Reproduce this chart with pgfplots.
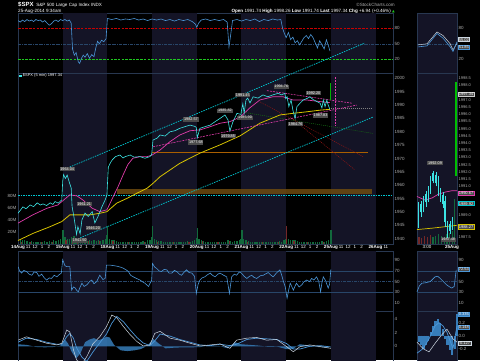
\documentclass[border=0pt]{standalone}
\usepackage{fontspec}
\setmainfont{Liberation Sans}
\newfontfamily\dejavu{DejaVu Sans}
\usepackage{pgfplots}
\pgfplotsset{compat=1.18}

\definecolor{dayband}{RGB}{20,20,38}
\definecolor{bordercol}{RGB}{40,55,80}
\definecolor{labcol}{RGB}{175,175,175}
\definecolor{pcyan}{RGB}{60,228,228}
\definecolor{chcyan}{RGB}{0,200,210}
\definecolor{mag}{RGB}{225,60,170}
\definecolor{yel}{RGB}{215,195,0}
\definecolor{rsiblue}{RGB}{75,150,215}
\definecolor{redl}{RGB}{200,0,0}
\definecolor{greenl}{RGB}{30,200,30}
\definecolor{volg}{RGB}{18,105,60}
\definecolor{volr}{RGB}{115,40,40}
\definecolor{brownl}{RGB}{170,95,0}
\definecolor{bandc}{RGB}{110,75,15}
\definecolor{dkred}{RGB}{150,20,20}
\definecolor{dkgreen}{RGB}{20,110,20}
\definecolor{lvlline}{RGB}{40,70,105}
\definecolor{boxgray}{RGB}{75,75,75}
\definecolor{histblue}{RGB}{55,125,185}
\definecolor{macdw}{RGB}{205,215,225}

\tikzset{
  lbl/.style={fill=boxgray, text=white, font=\fontsize{3.8}{4}\selectfont, inner sep=0.7pt},
  vbox/.style={fill=boxgray, text=white, font=\fontsize{4}{4.5}\selectfont, inner sep=0.6pt, anchor=west, xshift=1pt, line width=0.4pt},
}

\pgfplotsset{
  panel/.style={
    scale only axis, anchor=south west,
    axis line style={draw=bordercol, line width=0.5pt},
    xtick=\empty, ytick pos=right, yticklabel pos=right,
    major tick length=0pt,
    tick style={draw=none},
    yticklabel style={font=\fontsize{4.5}{5}\selectfont, text=labcol, inner sep=1.5pt},
    xticklabel style={font=\fontsize{4.5}{5}\selectfont, text=white, inner sep=1pt},
    /pgf/number format/assume math mode=true,
    /pgf/number format/1000 sep={},
    scaled y ticks=false,
  },
}

\newcommand\daybands[2]{%
  \addplot[fill=dayband,draw=none] coordinates {(1,#1)(2,#1)(2,#2)(1,#2)} -- cycle;
  \addplot[fill=dayband,draw=none] coordinates {(3,#1)(4,#1)(4,#2)(3,#2)} -- cycle;
  \addplot[fill=dayband,draw=none] coordinates {(5,#1)(6,#1)(6,#2)(5,#2)} -- cycle;
  \addplot[fill=dayband,draw=none] coordinates {(7,#1)(8,#1)(8,#2)(7,#2)} -- cycle;
}

\begin{document}
\begin{tikzpicture}
\fill[black] (0,0) rectangle (480pt,360pt);

% ---------------- top indicator panel ----------------
\begin{axis}[panel, at={(18pt,287pt)}, width=375pt, height=60pt,
  xmin=0, xmax=8.39, ymin=-6.5, ymax=109.6, ytick={20,50,80}]
\daybands{-6.5}{109.6}
\addplot[redl, line width=0.8pt, dash pattern=on 2.5pt off 1.2pt] coordinates {(0,80)(8.39,80)};
\addplot[lvlline, line width=0.5pt, dash pattern=on 3pt off 1pt on 0.6pt off 1pt] coordinates {(0,50)(8.39,50)};
\addplot[greenl, line width=0.8pt, dash pattern=on 2.5pt off 1.2pt] coordinates {(0,20)(8.39,20)};
\addplot[rsiblue, line width=0.6pt] coordinates {
(0,95)(0.05,92)(0.1,96)(0.15,93)(0.2,97)(0.25,94)(0.3,96)(0.35,93)(0.4,97)(0.45,95)(0.5,96)(0.55,92)(0.6,95)(0.65,90)(0.7,86)(0.75,89)(0.8,94)(0.85,96)(0.9,93)(0.95,97)
(1.0,95)(1.05,97)(1.1,94)(1.15,96)(1.19,90)(1.22,40)(1.26,28)(1.3,33)(1.35,15)(1.38,12)(1.42,22)(1.46,28)(1.5,24)(1.55,31)(1.6,22)(1.65,29)(1.7,25)(1.74,42)(1.78,55)(1.82,50)(1.87,57)(1.92,54)(1.97,60)
(2.0,99)(2.1,97)(2.2,99)(2.3,96)(2.4,98)(2.5,97)(2.6,99)(2.7,96)(2.8,98)(2.9,95)(3.0,98)(3.1,96)(3.2,98)(3.3,95)(3.4,97)(3.5,94)(3.6,97)(3.7,95)(3.8,97)(3.9,93)(3.97,88)
(4.0,82)(4.04,90)(4.1,96)(4.2,98)(4.3,95)(4.4,97)(4.5,95)(4.6,97)(4.68,92)(4.72,44)(4.75,62)(4.8,95)(4.9,97)(5.0,94)(5.1,97)(5.2,95)(5.3,98)(5.4,93)(5.5,97)(5.6,95)(5.7,98)(5.8,96)(5.88,97)
(5.92,80)(5.96,70)(6.0,62)(6.05,72)(6.1,58)(6.15,63)(6.2,52)(6.25,56)(6.3,48)(6.35,55)(6.4,62)(6.45,66)(6.5,60)(6.55,68)(6.6,62)(6.65,52)(6.7,42)(6.75,56)(6.8,48)(6.85,40)(6.9,58)(6.95,45)(6.98,36)};
\end{axis}

% small top panel
\begin{axis}[panel, at={(417pt,287pt)}, width=40pt, height=60pt,
  xmin=0, xmax=1, ymin=-6.5, ymax=109.6, ytick={20,80},
  axis background/.style={fill=dayband}, clip=false]
\addplot[lvlline, line width=0.5pt, dash pattern=on 3pt off 1pt on 0.6pt off 1pt] coordinates {(0,50)(1,50)};
\addplot[macdw, line width=0.5pt] coordinates {(0.03,48)(0.25,50)(0.5,73)(0.65,66)(0.83,50)(0.9,38)(1.0,51)};
\addplot[rsiblue, line width=0.6pt] coordinates {(0.03,44)(0.25,46)(0.5,70)(0.65,61)(0.83,44)(0.9,35)(1.0,54)};
\node[vbox, draw=macdw] at (axis cs:1,58) {55.02};
\node[vbox, draw=rsiblue] at (axis cs:1,44) {51.85};
\end{axis}

% ---------------- main price panel: volume layer ----------------
\begin{axis}[panel, at={(18pt,116pt)}, width=375pt, height=171pt,
  xmin=0, xmax=8.39, ymin=0, ymax=283.2, ytick={20,40,60,80}, yticklabels={20M,40M,60M,80M},
  ytick pos=left, yticklabel pos=left, axis line style={draw=none}]
\daybands{0}{283.2}
\addplot[volg, ycomb, line width=1.3pt] coordinates {
(0.01,16)(0.05,8)(0.10,6)(0.15,7)(0.20,5)(0.25,4)(0.30,5)(0.35,4)(0.40,3)(0.45,4)(0.50,3)(0.55,4)(0.60,5)(0.65,4)(0.70,5)(0.75,4)(0.80,6)(0.85,5)(0.90,7)(0.95,9)(0.99,12)
(1.01,23)(1.05,11)(1.10,9)(1.15,8)(1.20,12)(1.25,14)(1.30,10)(1.35,9)(1.40,8)(1.45,6)(1.50,7)(1.55,5)(1.60,6)(1.65,5)(1.70,6)(1.75,5)(1.80,6)(1.85,5)(1.90,7)(1.95,8)(1.99,15)
(2.01,29)(2.05,9)(2.10,7)(2.15,6)(2.20,5)(2.25,4)(2.30,4)(2.35,3)(2.40,4)(2.45,3)(2.50,3)(2.55,4)(2.60,3)(2.65,4)(2.70,4)(2.75,3)(2.80,5)(2.85,4)(2.90,6)(2.95,7)(2.99,11)
(3.01,29)(3.05,8)(3.10,6)(3.15,5)(3.20,5)(3.25,4)(3.30,4)(3.35,3)(3.40,4)(3.45,3)(3.50,3)(3.55,4)(3.60,3)(3.65,4)(3.70,3)(3.75,4)(3.80,5)(3.85,4)(3.90,5)(3.95,7)(3.99,10)
(4.01,26)(4.05,9)(4.10,6)(4.15,5)(4.20,4)(4.25,4)(4.30,3)(4.35,4)(4.40,3)(4.45,3)(4.50,4)(4.55,3)(4.60,4)(4.65,3)(4.70,6)(4.75,5)(4.80,4)(4.85,5)(4.90,5)(4.95,6)(4.99,9)
(5.01,23)(5.05,8)(5.10,6)(5.15,5)(5.20,4)(5.25,4)(5.30,3)(5.35,3)(5.40,4)(5.45,3)(5.50,3)(5.55,3)(5.60,4)(5.65,3)(5.70,3)(5.75,4)(5.80,4)(5.85,5)(5.90,4)(5.95,6)(5.99,9)
(6.05,9)(6.10,7)(6.15,6)(6.20,6)(6.25,5)(6.30,4)(6.35,4)(6.40,3)(6.45,4)(6.50,3)(6.55,3)(6.60,4)(6.65,3)(6.70,4)(6.75,4)(6.80,5)(6.85,4)(6.90,5)(6.95,7)(6.99,11)
(7.005,23)};
\addplot[volr, ycomb, line width=1.1pt] coordinates {
(0.075,4)(0.275,3)(0.525,3)(0.775,4)(1.075,7)(1.225,9)(1.325,8)(1.575,5)(1.825,5)(2.125,5)(2.475,3)(2.825,4)(3.125,4)(3.475,3)(3.825,4)(4.125,5)(4.475,3)(4.725,5)(5.125,4)(5.475,3)(5.825,4)(6.01,29)(6.175,5)(6.475,3)(6.825,4)};
\end{axis}

% ---------------- main price panel: price layer ----------------
\begin{axis}[panel, at={(18pt,116pt)}, width=375pt, height=171pt,
  xmin=0, xmax=8.39, ymin=1938, ymax=2002, ytick={1940,1945,...,2000}, clip=false,
  xtick={0,0.23,0.385,0.538,0.69,1,1.23,1.385,1.538,1.69,2,2.23,2.385,2.538,2.69,3,3.23,3.385,3.538,3.69,4,4.23,4.385,4.538,4.69,5,5.23,5.385,5.538,5.69,6,6.23,6.385,6.538,6.69,7,7.23,7.385,7.538,7.69,8,8.23},
  xticklabels={\textbf{14Aug},11,12,1,2,\textbf{15Aug},11,12,1,2,\textbf{18Aug},11,12,1,2,\textbf{19Aug},11,12,1,2,\textbf{20Aug},11,12,1,2,\textbf{21Aug},11,12,1,2,\textbf{22Aug},11,12,1,2,\textbf{25Aug},11,12,1,2,\textbf{26Aug},11}]
% horizontal levels
\addplot[chcyan, line width=0.6pt, dash pattern=on 1.5pt off 1pt] coordinates {(0,1956.1)(8.39,1956.1)};
\addplot[fill=bandc, draw=none, fill opacity=0.85] coordinates {(2.21,1956.7)(7.92,1956.7)(7.92,1958.6)(2.21,1958.6)} -- cycle;
\addplot[brownl, line width=0.6pt] coordinates {(3.0,1972.3)(7.83,1972.3)};
\addplot[gray, line width=0.5pt, dash pattern=on 1pt off 1pt] coordinates {(7.0,1988.8)(7.9,1988.8)};
% speed lines
\addplot[dkred, line width=0.5pt, dash pattern=on 1pt off 1pt] coordinates {(5.41,1991.2)(7.72,1970.7)};
\addplot[dkred, line width=0.5pt, dash pattern=on 1pt off 1pt] coordinates {(6.09,1985.6)(7.54,1965.7)};
\addplot[dkgreen, line width=0.5pt, dash pattern=on 1pt off 1pt] coordinates {(4.97,1987.5)(7.94,1979.4)};
% channel
\addplot[chcyan, line width=0.7pt, dash pattern=on 1.5pt off 1pt] coordinates {(1.0,1965.7)(7.76,2013.2)};
\addplot[chcyan, line width=0.7pt, dash pattern=on 1.5pt off 1pt] coordinates {(1.39,1940.3)(7.94,1985.5)};
% moving averages
\addplot[yel, line width=0.8pt] coordinates {
(0,1939.3)(0.34,1942)(0.72,1944.5)(0.98,1946.4)(1.16,1948.9)(1.39,1948.9)(1.61,1948.9)(1.83,1949.5)(1.99,1950.1)(2.21,1953.3)(2.44,1955.1)(2.66,1957)(2.89,1958.9)(3.02,1960.7)(3.18,1963.2)(3.62,1968.2)(4.07,1972)(4.52,1975.1)(4.97,1978.5)(5.41,1983.2)(5.86,1986.3)(6.15,1986.9)(6.47,1987.5)(6.76,1988.1)(6.98,1988.4)};
\addplot[mag, line width=0.7pt] coordinates {
(0,1945.8)(0.33,1948.9)(0.65,1951.4)(0.89,1952.6)(1.16,1956.4)(1.32,1956)(1.45,1954.5)(1.66,1951.4)(1.83,1950.1)(1.99,1950.8)(2.13,1955.7)(2.24,1959.5)(2.35,1963.8)(2.46,1967.8)(2.57,1970.1)(2.73,1970.7)(2.89,1970.7)(3.0,1971.3)(3.18,1973.2)(3.4,1976.3)(3.62,1978.8)(3.85,1980.4)(4.07,1980.7)(4.3,1981.9)(4.52,1983.2)(4.74,1983.8)(4.97,1985.5)(5.19,1989.0)(5.41,1991.9)(5.7,1993.1)(5.93,1993.1)(6.15,1991.9)(6.46,1991.9)(6.76,1991.3)(6.98,1990.9)};
% triangle
\addplot[mag, line width=0.6pt, dash pattern=on 2pt off 1pt] coordinates {(5.57,1995.4)(7.47,1990.7)};
\addplot[mag, line width=0.6pt, dash pattern=on 2pt off 1pt] coordinates {(3.02,1974.4)(7.58,1990.0)};
\addplot[mag, line width=0.6pt, dash pattern=on 2pt off 1pt] coordinates {(7.09,2000.5)(7.09,1982)};
% price
\addplot[pcyan, line width=0.6pt] coordinates {
(0,1949.5)(0.06,1950.8)(0.11,1951.9)(0.18,1951.2)(0.27,1952.6)(0.35,1952.0)(0.43,1953.4)(0.5,1952.6)(0.56,1953.0)(0.64,1952.4)(0.72,1953.4)(0.78,1952.8)(0.83,1953.9)(0.9,1953.3)(0.98,1954.5)
(1.0,1961.5)(1.02,1964.0)(1.06,1962.5)(1.1,1963.8)(1.15,1961.0)(1.19,1959.0)(1.21,1952)(1.25,1948.3)(1.31,1941.6)(1.34,1944.5)(1.39,1941.8)(1.43,1947)(1.5,1949.6)(1.57,1948.3)(1.66,1950.1)(1.72,1945.9)(1.79,1948.3)(1.88,1952)(1.95,1954.5)(1.99,1956.4)
(2.0,1960)(2.02,1966.7)(2.07,1968.5)(2.11,1969.5)(2.18,1970.7)(2.28,1971.3)(2.35,1970.2)(2.4,1970.7)(2.51,1971.3)(2.6,1970.5)(2.73,1970.7)(2.84,1970.1)(2.95,1970.7)(2.99,1971.5)
(3.0,1973.2)(3.02,1976.9)(3.11,1977.6)(3.18,1978.8)(3.29,1978.4)(3.4,1980)(3.51,1980.4)(3.62,1981.3)(3.73,1981.9)(3.85,1982.5)(3.96,1982.0)(3.99,1981.6)
(4.01,1977.7)(4.07,1981.3)(4.18,1981.9)(4.3,1982.5)(4.41,1983.8)(4.52,1985)(4.63,1986.3)(4.7,1984.4)(4.74,1980.3)(4.81,1983.8)(4.9,1986.9)(4.99,1986.5)
(5.0,1988)(5.03,1990.5)(5.06,1987)(5.1,1991.9)(5.14,1992.6)(5.19,1990.8)(5.26,1993.1)(5.37,1992.6)(5.48,1993.8)(5.59,1993.1)(5.7,1993.8)(5.82,1994.4)(5.9,1993.8)(5.97,1994.4)(5.99,1992.4)
(6.02,1993.1)(6.06,1989.4)(6.11,1991.9)(6.15,1988.1)(6.2,1985)(6.24,1989.4)(6.31,1990.7)(6.38,1991.9)(6.47,1992.5)(6.53,1993.1)(6.6,1992.1)(6.69,1991.3)(6.76,1990.7)(6.8,1988.9)(6.83,1991.9)(6.87,1989.4)(6.91,1991.9)(6.94,1990)(6.98,1988.4)};
\addplot[green!70!black, line width=1.2pt] coordinates {(7.0,1991.74)(7.0,1998.26)};
% annotations
\node[lbl] at (axis cs:1.10,1966.1) {1964.04};
\node[lbl] at (axis cs:1.48,1952.9) {1961.21};
\node[lbl] at (axis cs:1.68,1944.1) {1946.20};
\node[lbl] at (axis cs:1.38,1939.3) {1941.50};
\node[lbl] at (axis cs:3.87,1984.6) {1982.57};
\node[lbl] at (axis cs:3.98,1976.0) {1977.68};
\node[lbl] at (axis cs:4.63,1987.9) {1985.82};
\node[lbl] at (axis cs:4.70,1978.3) {1979.85};
\node[lbl] at (axis cs:5.89,1996.9) {1994.76};
\node[lbl] at (axis cs:5.03,1993.8) {1991.45};
\node[lbl] at (axis cs:5.08,1985.3) {1985.90};
\node[lbl] at (axis cs:6.61,1994.4) {1992.20};
\node[lbl] at (axis cs:6.21,1983.0) {1984.76};
\node[lbl] at (axis cs:6.77,1986.1) {1987.83};
\end{axis}

% ---------------- small price panel ----------------
\begin{axis}[panel, at={(417pt,116pt)}, width=40pt, height=171pt,
  xmin=0, xmax=1, ymin=0, ymax=283.2, ytick=\empty, axis background/.style={fill=dayband}]
\addplot[volr, ycomb, line width=1.2pt] coordinates {(0.05,12)(0.12,10)(0.19,14)(0.26,11)(0.33,15)};
\addplot[volg, ycomb, line width=1.2pt] coordinates {(0.40,12)(0.47,13)(0.54,16)(0.61,14)(0.68,12)(0.75,17)(0.82,18)(0.88,22)(0.94,75)};
\end{axis}
\begin{axis}[panel, at={(417pt,116pt)}, width=40pt, height=171pt,
  xmin=0, xmax=1, ymin=1987, ymax=1998.87, clip=false,
  ytick={1987.5,1989,1991,1991.5,1992,1992.5,1993,1993.5,1994,1994.5,1995,1995.5,1996,1996.5,1997,1998,1998.5},
  yticklabel style={font=\fontsize{4}{4.5}\selectfont, /pgf/number format/fixed, /pgf/number format/fixed zerofill, /pgf/number format/precision=1},
  xtick={0.25,0.875}, xticklabels={3:00,\textbf{25Aug}}]
\addplot[mag, line width=0.7pt] coordinates {(0,1990.3)(0.2,1990.05)(0.38,1990.2)(0.53,1990.45)(0.7,1990.6)(0.88,1990.7)(1.0,1990.7)};
\addplot[yel, line width=0.7pt] coordinates {(0,1988.0)(0.38,1988.1)(0.7,1988.2)(1,1988.3)};
\addplot[pcyan, line width=0.4pt, unbounded coords=jump] coordinates {
(0.04,1988.1)(0.04,1989.9)(0.04,nan)(0.10,1988.9)(0.10,1990.0)(0.10,nan)(0.16,1989.2)(0.16,1990.3)(0.16,nan)(0.22,1989.6)(0.22,1990.7)(0.22,nan)(0.28,1989.9)(0.28,1991.0)(0.28,nan)(0.34,1990.5)(0.34,1991.7)(0.34,nan)(0.40,1991.2)(0.40,1992.1)(0.40,nan)(0.47,1991.0)(0.47,1992.0)(0.47,nan)(0.53,1990.3)(0.53,1991.7)(0.53,nan)(0.59,1989.9)(0.59,1990.9)(0.59,nan)(0.65,1989.5)(0.65,1990.6)(0.65,nan)(0.70,1988.2)(0.70,1990.3)(0.70,nan)(0.76,1987.4)(0.76,1988.6)(0.76,nan)(0.82,1987.7)(0.82,1988.6)(0.82,nan)(0.88,1988.0)(0.88,1988.9)};
\addplot[pcyan, line width=1.4pt, unbounded coords=jump] coordinates {
(0.04,1988.4)(0.04,1989.6)(0.04,nan)(0.10,1989.2)(0.10,1989.8)(0.10,nan)(0.16,1989.5)(0.16,1990.1)(0.16,nan)(0.22,1989.9)(0.22,1990.5)(0.22,nan)(0.28,1990.2)(0.28,1990.8)(0.28,nan)(0.34,1990.8)(0.34,1991.5)(0.34,nan)(0.40,1991.4)(0.40,1991.9)(0.40,nan)(0.47,1991.2)(0.47,1991.8)(0.47,nan)(0.53,1990.6)(0.53,1991.4)(0.53,nan)(0.59,1990.1)(0.59,1990.7)(0.59,nan)(0.65,1989.8)(0.65,1990.4)(0.65,nan)(0.70,1988.5)(0.70,1990.0)(0.70,nan)(0.76,1987.7)(0.76,1988.4)(0.76,nan)(0.82,1987.9)(0.82,1988.4)(0.82,nan)(0.88,1988.2)(0.88,1988.7)};
\addplot[green!75!black, line width=1.6pt] coordinates {(0.97,1991.74)(0.97,1998.26)};
\node[lbl] at (axis cs:0.45,1992.6) {1992.09};
\node[lbl] at (axis cs:0.78,1987.3) {1987.48};
\node[vbox, draw=white!80!black] at (axis cs:1,1997.4) {1997.34};
\node[vbox, draw=mag] at (axis cs:1,1990.5) {1990.67};
\node[vbox, draw=chcyan] at (axis cs:1,1989.8) {1989.92};
\node[vbox, draw=yel] at (axis cs:1,1988.2) {1988.27};
\end{axis}

% ---------------- RSI panel ----------------
\begin{axis}[panel, at={(18pt,49pt)}, width=375pt, height=60pt,
  xmin=0, xmax=8.39, ymin=-5, ymax=107.4, ytick={10,30,50,70,90}]
\daybands{-5}{107.4}
\addplot[lvlline, line width=0.5pt] coordinates {(0,70)(8.39,70)};
\addplot[lvlline, line width=0.5pt] coordinates {(0,30)(8.39,30)};
\addplot[lvlline, line width=0.5pt, dash pattern=on 3pt off 1pt on 0.6pt off 1pt] coordinates {(0,50)(8.39,50)};
\addplot[rsiblue, line width=0.6pt] coordinates {
(0,78)(0.04,70)(0.08,66)(0.13,71)(0.19,69)(0.25,64)(0.31,62)(0.36,68)(0.42,67)(0.47,60)(0.53,64)(0.58,58)(0.64,53)(0.7,57)(0.75,56)(0.81,62)(0.87,59)(0.92,63)(0.97,66)
(1.0,91)(1.05,80)(1.09,78)(1.16,78)(1.2,34)(1.24,40)(1.28,38)(1.32,33)(1.35,31)(1.39,40)(1.43,47)(1.48,41)(1.54,44)(1.6,50)(1.65,53)(1.7,46)(1.76,50)(1.8,57)(1.83,62)(1.9,54)(1.95,56)
(1.98,81)(2.06,81)(2.14,80)(2.21,79)(2.3,77)(2.36,75)(2.42,72)(2.47,69)(2.52,62)(2.58,59)(2.65,56)(2.73,53)(2.78,50)(2.84,47)(2.88,44)(2.92,41)(2.99,53)
(3.01,84)(3.06,77)(3.10,75)(3.16,70)(3.21,69)(3.27,73)(3.33,72)(3.38,66)(3.44,66)(3.5,71)(3.55,69)(3.61,64)(3.66,62)(3.72,68)(3.77,72)(3.83,67)(3.89,66)(3.95,60)
(3.99,28)(4.03,45)(4.07,53)(4.12,57)(4.18,59)(4.24,63)(4.30,66)(4.35,62)(4.41,59)(4.47,64)(4.52,66)(4.6,62)(4.67,59)(4.73,28)(4.78,59)(4.84,64)(4.89,62)(4.95,68)
(5.0,66)(5.06,60)(5.12,56)(5.18,60)(5.23,62)(5.28,58)(5.34,56)(5.42,61)(5.49,62)(5.55,65)(5.60,67)(5.66,62)(5.71,59)(5.78,66)(5.86,72)(5.9,62)(5.94,50)
(5.98,40)(6.02,19)(6.06,36)(6.09,47)(6.13,40)(6.16,34)(6.2,42)(6.23,47)(6.29,40)(6.35,44)(6.4,50)(6.46,53)(6.52,50)(6.57,56)(6.62,53)(6.68,59)(6.73,50)(6.77,31)(6.8,48)(6.83,59)(6.88,52)(6.94,38)(6.97,45)(7.0,73)};
\end{axis}

\begin{axis}[panel, at={(417pt,49pt)}, width=40pt, height=60pt,
  xmin=0, xmax=1, ymin=-5, ymax=107.4, ytick={10,30,50,90},
  axis background/.style={fill=dayband}, clip=false]
\addplot[lvlline, line width=0.5pt] coordinates {(0,70)(1,70)};
\addplot[lvlline, line width=0.5pt] coordinates {(0,30)(1,30)};
\addplot[lvlline, line width=0.5pt, dash pattern=on 3pt off 1pt on 0.6pt off 1pt] coordinates {(0,50)(1,50)};
\addplot[rsiblue, line width=0.6pt] coordinates {(0,31)(0.06,42)(0.12,47)(0.22,48)(0.33,50)(0.45,59)(0.52,60)(0.58,56)(0.66,50)(0.74,44)(0.82,40)(0.87,38)(0.93,41)(0.98,72)};
\node[vbox, draw=rsiblue] at (axis cs:1,72.53) {72.53};
\end{axis}

% ---------------- MACD panel ----------------
\begin{axis}[panel, at={(18pt,-12pt)}, width=375pt, height=61pt,
  xmin=0, xmax=8.39, ymin=-3.78, ymax=5.19, ytick={0,2,4}]
\daybands{-3.78}{5.19}
\addplot[fill=histblue, draw=none, fill opacity=0.85] coordinates {
(0,0.3)(0.2,0.2)(0.4,-0.1)(0.6,-0.15)(0.8,-0.1)(0.95,0.1)(1.05,1.0)(1.12,0.4)(1.2,-0.8)(1.3,-1.8)(1.4,-1.0)(1.5,0.6)(1.6,1.0)(1.7,1.2)(1.8,0.9)(1.9,1.1)(1.98,1.4)(2.05,1.3)(2.15,0.2)(2.3,-0.6)(2.45,-0.7)(2.6,-0.6)(2.75,-0.4)(2.9,0.1)(3.02,1.1)(3.15,0.4)(3.3,-0.3)(3.5,-0.2)(3.7,-0.15)(3.9,-0.15)(4.1,-0.1)(4.3,0.1)(4.5,0.05)(4.7,-0.3)(4.85,0.6)(5.0,0.3)(5.2,0.2)(5.4,0.1)(5.6,-0.1)(5.8,-0.05)(6.0,-0.4)(6.15,-0.4)(6.3,0.3)(6.5,0.15)(6.7,-0.1)(6.95,-0.2)} \closedcycle;
\addplot[rsiblue, line width=0.7pt] coordinates {
(0,0.6)(0.19,1.2)(0.42,1.0)(0.64,0.6)(0.87,0.3)(0.98,0.3)(1.09,1.4)(1.16,1.9)(1.24,1.2)(1.31,-0.2)(1.43,-1.6)(1.54,-2.2)(1.68,-0.8)(1.83,0.5)(1.98,1.8)(2.10,3.4)(2.21,4.4)(2.36,3.6)(2.51,2.4)(2.66,1.3)(2.80,0.5)(2.95,0.1)(3.06,0.8)(3.18,1.8)(3.40,1.5)(3.62,1.0)(3.85,0.6)(4.07,0.2)(4.30,0.1)(4.52,0.3)(4.74,0.1)(4.89,0.3)(5.12,1.0)(5.34,1.2)(5.56,1.1)(5.79,1.0)(6.01,0.4)(6.16,-0.4)(6.31,-0.4)(6.53,0.0)(6.76,0.1)(7.0,-0.1)};
\addplot[macdw, line width=0.5pt] coordinates {
(0,0.9)(0.19,1.4)(0.42,0.9)(0.64,0.45)(0.87,0.2)(0.98,0.45)(1.09,2.4)(1.16,2.1)(1.24,-0.5)(1.31,-2.0)(1.43,-2.6)(1.54,-1.5)(1.68,0.4)(1.83,1.4)(1.98,2.9)(2.10,4.6)(2.21,4.2)(2.36,2.9)(2.51,1.7)(2.66,0.7)(2.80,0.05)(2.95,0.2)(3.06,1.9)(3.18,2.2)(3.40,1.2)(3.62,0.9)(3.85,0.45)(4.07,0.05)(4.30,0.2)(4.52,0.35)(4.74,-0.3)(4.89,0.9)(5.12,1.2)(5.34,1.3)(5.56,0.9)(5.79,1.0)(6.01,-0.05)(6.16,-0.8)(6.31,-0.05)(6.53,0.2)(6.76,-0.05)(7.0,-0.3)};
\end{axis}

\begin{axis}[panel, at={(417pt,-12pt)}, width=40pt, height=61pt,
  xmin=0, xmax=1, ymin=-0.56, ymax=0.38, ytick={-0.2,0,0.2},
  yticklabel style={/pgf/number format/fixed, /pgf/number format/fixed zerofill, /pgf/number format/precision=1},
  axis background/.style={fill=dayband}, clip=false]
\addplot[histblue, ycomb, line width=2.2pt] coordinates {(0.04,-0.1)(0.1,-0.15)(0.16,-0.2)(0.22,-0.15)(0.28,-0.08)(0.34,0.05)(0.4,0.15)(0.46,0.22)(0.52,0.26)(0.58,0.2)(0.64,0.1)(0.7,-0.05)(0.76,-0.15)(0.82,-0.22)(0.88,-0.3)(0.94,-0.2)(0.99,0.34)};
\addplot[rsiblue, line width=0.7pt] coordinates {(0,-0.27)(0.15,-0.2)(0.3,-0.05)(0.45,0.15)(0.55,0.2)(0.65,0.15)(0.75,0.05)(0.9,-0.2)(1,0.15)};
\addplot[macdw, line width=0.5pt] coordinates {(0,-0.1)(0.15,-0.2)(0.3,-0.25)(0.45,-0.12)(0.6,0.0)(0.75,0.1)(0.9,-0.05)(1,-0.1)};
\node[vbox, draw=rsiblue, fill=histblue] at (axis cs:1,0.335) {0.335};
\node[vbox, draw=rsiblue] at (axis cs:1,0.13) {0.148};
\node[vbox, draw=macdw] at (axis cs:1,-0.11) {-0.127};
\end{axis}

% ---------------- header texts ----------------
\node[anchor=west, inner sep=0pt, text=white] at (18pt,355pt) {{\bfseries\fontsize{6}{6}\selectfont \$SPX}\ {\fontsize{4.6}{5}\selectfont S\&P 500 Large Cap Index INDX}};
\node[anchor=west, inner sep=0pt, text=white, font=\fontsize{4.6}{5}\selectfont] at (18pt,349pt) {25-Aug-2014 9:34am};
\node[anchor=east, inner sep=0pt, text=labcol, font=\fontsize{4.6}{5}\selectfont] at (395pt,355pt) {©StockCharts.com};
\node[anchor=east, inner sep=0pt, text=white, font=\fontsize{4.6}{5}\selectfont] at (395pt,349pt) {\textbf{Open} 1991.74 \textbf{High} 1998.26 \textbf{Low} 1991.74 \textbf{Last} 1997.34 \textbf{Chg} +6.94 (+0.46\%) {\dejavu\fontsize{3.5}{4}\selectfont\textcolor{greenl}{▲}}};
\node[anchor=west, inner sep=0pt, text=white, font=\fontsize{4}{4.5}\selectfont] at (19pt,284.3pt) {\textcolor{pcyan}{\rule{3pt}{2pt}}\,\$SPX (5 min) 1997.34};

\pgfresetboundingbox
\path (0,0) rectangle (480pt,360pt);
\end{tikzpicture}
\end{document}
